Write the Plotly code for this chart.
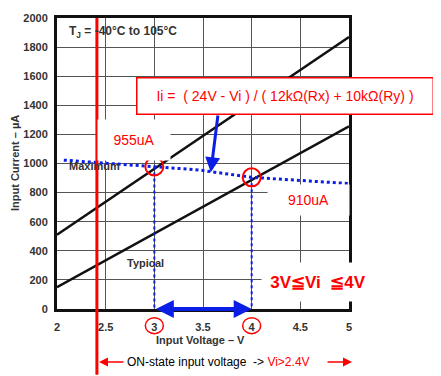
import plotly.graph_objects as go

# ---- data ----
volt = [2, 5]
typical_current = [150, 1255]
maximum_current = [510, 1870]
dotted_volt = [2.07, 3, 3.45, 4, 5]
dotted_current = [1023, 980, 956, 905, 862]
marked_volt = [3, 4]
marked_current = [980, 905]
on_state_volt = 2.41
x_ticks = [2, 2.5, 3, 3.5, 4, 4.5, 5]
y_ticks = list(range(0, 2001, 200))

FONT = "Liberation Sans, Arial, sans-serif"
OFF = 8  # page body margin
L, R, T, B = 57, 92, 12, 67
W, H = 441, 376
PW, PH = W - L - R, H - T - B


def px(x):
    return (x - L) / PW


def py(y):
    return (T + PH - y) / PH


fig = go.Figure()
fig.add_trace(go.Scatter(x=volt, y=maximum_current, mode="lines",
                         line=dict(color="#111", width=2.5), hoverinfo="skip"))
fig.add_trace(go.Scatter(x=volt, y=typical_current, mode="lines",
                         line=dict(color="#111", width=2.5), hoverinfo="skip"))
fig.add_trace(go.Scatter(x=dotted_volt, y=dotted_current, mode="lines",
                         line=dict(color="#0a1ee6", width=3, dash="dot"), hoverinfo="skip"))
for xv, yv in zip(marked_volt, marked_current):
    fig.add_trace(go.Scatter(x=[xv, xv], y=[yv, 0], mode="lines",
                             line=dict(color="#0a1ee6", width=2, dash="dot"), hoverinfo="skip"))

shapes = []
shapes.append(dict(type="line", xref="x", yref="paper", x0=on_state_volt, x1=on_state_volt,
                   y0=1, y1=py(376), line=dict(color="#ff0000", width=3), layer="above"))
for xv, yv in zip(marked_volt, marked_current):
    shapes.append(dict(type="circle", xref="x", yref="y", xsizemode="pixel", ysizemode="pixel",
                       xanchor=xv, yanchor=yv, x0=-9, x1=9, y0=-9, y1=9,
                       line=dict(color="#ff0000", width=2)))
    shapes.append(dict(type="circle", xref="x", yref="paper", xsizemode="pixel", ysizemode="pixel",
                       xanchor=xv, yanchor=py(326), x0=-9, x1=9, y0=-8, y1=8,
                       line=dict(color="#ff0000", width=1.5)))

red = "#ff0000"
C = dict(xanchor="center", yanchor="middle")
ann = []
ann.append(dict(xref="paper", yref="paper", x=px(284.5), y=py(91.5),
                text="Ii =  ( 24V - Vi ) / ( 12kΩ(Rx) + 10kΩ(Ry) )", showarrow=False,
                font=dict(family=FONT, size=14, color=red), bgcolor="white",
                bordercolor=red, borderwidth=1.5, borderpad=8, width=279, height=19, **C))
ann.append(dict(xref="paper", yref="paper", x=px(134), y=py(137), text="955uA", showarrow=False,
                font=dict(family=FONT, size=14, color=red), bgcolor="white",
                borderpad=6, width=60, height=28, **C))
ann.append(dict(xref="paper", yref="paper", x=px(308), y=py(198), text="910uA", showarrow=False,
                font=dict(family=FONT, size=14, color=red), bgcolor="white",
                borderpad=0, width=81, height=30, **C))
ann.append(dict(xref="paper", yref="paper", x=px(318), y=py(281), text="<b>3V≦Vi  ≦4V</b>",
                showarrow=False, font=dict(family=FONT, size=17, color=red), bgcolor="white",
                borderpad=0, width=112, height=38, **C))
ann.append(dict(xref="x", yref="y", x=2.39, y=983, text="<b>Maximum</b>", showarrow=False,
                font=dict(family=FONT, size=11, color="#333"), **C))
ann.append(dict(xref="x", yref="y", x=2.905, y=316, text="<b>Typical</b>", showarrow=False,
                font=dict(family=FONT, size=11, color="#333"), **C))
ann.append(dict(xref="paper", yref="paper", x=px(67), y=py(26), xanchor="left", yanchor="middle",
                text="<b>T<sub>J</sub> = -40°C to 105°C</b>", showarrow=False,
                font=dict(family=FONT, size=12, color="#333")))
ann.append(dict(xref="paper", yref="paper", x=px(200), y=py(341), text="<b>Input Voltage – V</b>",
                showarrow=False, font=dict(family=FONT, size=11, color="#333"), **C))
ann.append(dict(xref="paper", yref="paper", x=px(15), y=py(160), text="<b>Input Current – µA</b>",
                textangle=-90, showarrow=False, font=dict(family=FONT, size=11, color="#333"), **C))
ann.append(dict(xref="x", yref="y", axref="x", ayref="y", x=3.58, y=940, ax=3.655, ay=1340,
                text="", showarrow=True, arrowhead=2, arrowsize=1, arrowwidth=3,
                arrowcolor="#0a1ee6"))
ann.append(dict(xref="x", yref="y", axref="x", ayref="y", x=marked_volt[1], y=0,
                ax=marked_volt[0], ay=0, text="", showarrow=True, arrowhead=2,
                startarrowhead=2, arrowside="end+start", arrowsize=0.9, startarrowsize=0.9,
                arrowwidth=4, arrowcolor="#0a1ee6", standoff=0, startstandoff=0))
ann.append(dict(xref="paper", yref="paper", x=px(125), y=py(363), xanchor="left", yanchor="middle",
                text="ON-state input voltage  -&gt; <span style='color:#ff0000'>Vi&gt;2.4V</span>",
                showarrow=False, font=dict(family=FONT, size=12, color="black")))
ann.append(dict(xref="paper", yref="paper", x=px(99), y=py(363), ax=26, ay=0, text="",
                showarrow=True, arrowhead=2, arrowsize=1.2, arrowwidth=1.5, arrowcolor=red))
ann.append(dict(xref="paper", yref="paper", x=px(352), y=py(363), ax=-26, ay=0, text="",
                showarrow=True, arrowhead=2, arrowsize=1.2, arrowwidth=1.5, arrowcolor=red))

axis_common = dict(showgrid=True, gridcolor="#555", gridwidth=1, showline=True, mirror=True,
                   linecolor="#111", linewidth=3, zeroline=False, ticks="",
                   tickfont=dict(family=FONT, size=11, color="#333", weight="bold"))

fig.update_layout(
    width=W - OFF, height=H - OFF, margin=dict(l=L - OFF, r=R, t=T - OFF, b=B),
    paper_bgcolor="white", plot_bgcolor="white", showlegend=False,
    xaxis=dict(range=[2, 5], tickvals=x_ticks, ticktext=[str(v) for v in x_ticks],
               ticklabelstandoff=6, **axis_common),
    yaxis=dict(range=[0, 2000], tickvals=y_ticks, ticklabelstandoff=4, **axis_common),
    shapes=shapes, annotations=ann,
)

fig.write_html("out.html")
